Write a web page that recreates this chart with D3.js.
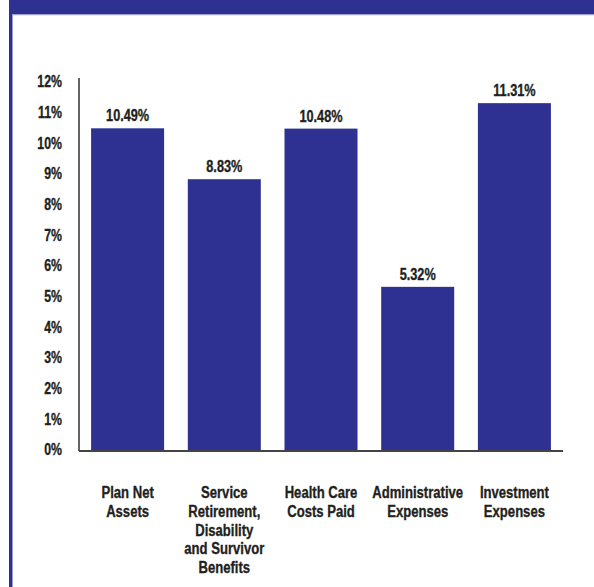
<!DOCTYPE html>
<html lang="en">
<head>
<meta charset="UTF-8">
<title>Growth rates</title>
<script src="https://d3js.org/d3.v7.min.js"></script>
<style>
  body { margin: 0; background: #fff; }
  svg text { font-family: "Liberation Sans", Arial, sans-serif; font-weight: bold; fill: #231f20; stroke: #231f20; stroke-width: 0.35px; }
</style>
</head>
<body>
<script>
// chart data
const categories = ["Plan Net Assets", "Service Retirement, Disability and Survivor Benefits",
  "Health Care Costs Paid", "Administrative Expenses", "Investment Expenses"];
const categoryLines = [
  ["Plan Net", "Assets"],
  ["Service", "Retirement,", "Disability", "and Survivor", "Benefits"],
  ["Health Care", "Costs Paid"],
  ["Administrative", "Expenses"],
  ["Investment", "Expenses"]
];
const values = [10.49, 8.83, 10.48, 5.32, 11.31];
const yTicks = [0, 1, 2, 3, 4, 5, 6, 7, 8, 9, 10, 11, 12];

const W = 594, H = 587;
const blue = "#2e3192";
const sx = 0.77; // squeeze text to look like a condensed face

const svg = d3.select("body").append("svg")
  .attr("width", W).attr("height", H);

// frame: top band and left rule
svg.append("rect").attr("x", 9).attr("y", 0).attr("width", W - 9).attr("height", 14).attr("fill", blue);
svg.append("rect").attr("x", 9).attr("y", 14).attr("width", W - 9).attr("height", 1.2).attr("fill", "#9ea0cf");
svg.append("rect").attr("x", 9).attr("y", 0).attr("width", 3).attr("height", H).attr("fill", blue);
svg.append("rect").attr("x", 12).attr("y", 15).attr("width", 1).attr("height", H).attr("fill", "#9ea0cf");

const pl = 79, pr = 563, pt = 82, pb = 450;

const x = d3.scaleBand().domain(categories).range([pl, pr]).paddingInner(0.245).paddingOuter(0.125);
const y = d3.scaleLinear().domain([0, 12]).range([pb, pt]);

// bars
svg.selectAll(".bar")
  .data(values)
  .enter().append("rect")
  .attr("class", "bar")
  .attr("x", (d, i) => x(categories[i]))
  .attr("y", d => y(d))
  .attr("width", x.bandwidth())
  .attr("height", d => y(0) - y(d))
  .attr("fill", blue);

// value labels
svg.selectAll(".val")
  .data(values)
  .enter().append("text")
  .attr("class", "val")
  .attr("transform", (d, i) => `translate(${x(categories[i]) + x.bandwidth() / 2},${y(d) - 7}) scale(${sx},1)`)
  .attr("text-anchor", "middle")
  .style("font-size", "16.5px")
  .text(d => d.toFixed(2) + "%");

// y axis
const yAxis = svg.append("g")
  .attr("transform", `translate(${pl},0)`)
  .call(d3.axisLeft(y).tickValues(yTicks).tickSize(0).tickPadding(17).tickFormat(d => d + "%"));
yAxis.select(".domain").attr("stroke", "#111").attr("stroke-width", 1.3).attr("d", `M0,${pt - 4}V${pb + 1}`);
yAxis.selectAll("text")
  .style("font-size", "16px")
  .attr("fill", "#231f20")
  .attr("x", -17 / sx)
  .attr("dy", "0.3em")
  .attr("transform", `scale(${sx},1)`);

// x axis line
svg.append("line")
  .attr("x1", pl).attr("x2", pr)
  .attr("y1", pb + 1).attr("y2", pb + 1)
  .attr("stroke", "#444").attr("stroke-width", 2);

// category labels
const cat = svg.selectAll(".cat")
  .data(categoryLines)
  .enter().append("text")
  .attr("class", "cat")
  .attr("text-anchor", "middle")
  .style("font-size", "17px")
  .attr("transform", (d, i) => `translate(${x(categories[i]) + x.bandwidth() / 2},498) scale(${sx},1)`);
cat.selectAll("tspan")
  .data(d => d)
  .enter().append("tspan")
  .attr("x", 0)
  .attr("dy", (d, i) => i === 0 ? 0 : 18.8)
  .text(d => d);
</script>
</body>
</html>
